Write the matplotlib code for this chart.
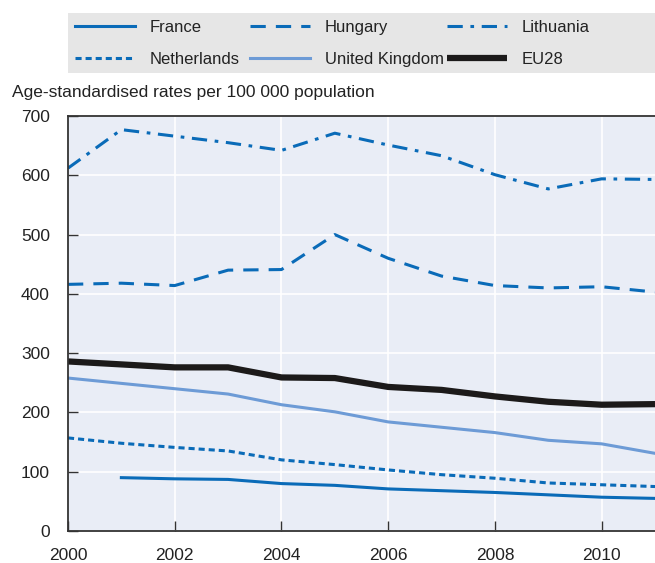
import matplotlib
matplotlib.use('Agg')
import matplotlib.pyplot as plt
from matplotlib.patches import Rectangle

plt.rcParams['font.family'] = ['Liberation Sans', 'DejaVu Sans']

years = list(range(2000, 2012))
france = [None, 90, 88, 87, 80, 77, 71, 68, 65, 61, 57, 55]
netherlands = [157, 148, 141, 135, 120, 112, 103, 95, 89, 81, 78, 75]
hungary = [416, 418, 414, 440, 441, 500, 460, 430, 414, 410, 412, 403]
uk = [258, 249, 240, 231, 213, 201, 184, 175, 166, 153, 147, 131]
lithuania = [612, 677, 666, 655, 642, 671, 651, 633, 601, 577, 594, 593]
eu28 = [286, 281, 276, 276, 259, 258, 243, 238, 227, 218, 213, 214]

xticks = [2000, 2002, 2004, 2006, 2008, 2010]
yticks = [0, 100, 200, 300, 400, 500, 600, 700]

blue = '#0a6bb8'
lightblue = '#6d9bd6'

fig = plt.figure(figsize=(6.55, 5.63), dpi=100)
ax = fig.add_axes([68/655, 1-531/563, 1-68/655, (531-116)/563])
ax.set_facecolor('#e9edf6')

fr_x = [y for y, v in zip(years, france) if v is not None]
fr_y = [v for v in france if v is not None]

l_fr, = ax.plot(fr_x, fr_y, color=blue, lw=2.2, label='France')
l_nl, = ax.plot(years, netherlands, color=blue, lw=2.2, dashes=(2, 1.3), label='Netherlands')
l_hu, = ax.plot(years, hungary, color=blue, lw=2.2, dashes=(5, 3.3), label='Hungary')
l_uk, = ax.plot(years, uk, color=lightblue, lw=2.2, label='United Kingdom')
l_lt, = ax.plot(years, lithuania, color=blue, lw=2.2, dashes=(5, 2.5, 1.2, 2.5), label='Lithuania')
l_eu, = ax.plot(years, eu28, color='#1c1a1a', lw=4.5, solid_capstyle='butt', label='EU28')

ax.set_xlim(2000, 2011)
ax.set_ylim(0, 700)
ax.set_xticks(xticks)
ax.set_yticks(yticks)
ax.grid(True, color='white', lw=1.2)
ax.set_axisbelow(True)
for s in ['left', 'bottom', 'top']:
    ax.spines[s].set_color('#333333')
    ax.spines[s].set_linewidth(1.3)
ax.spines['right'].set_visible(False)
ax.tick_params(direction='in', length=7, width=1, color='#333333', labelsize=12.5, labelcolor='#222222')
ax.tick_params(axis='x', pad=12)
ax.tick_params(axis='y', pad=13)

fig.text(12/655, 1-93/563, 'Age-standardised rates per 100 000 population',
         fontsize=12.5, va='center', ha='left', color='#222222')

# legend box
fig.patches.append(Rectangle((68/655, 1-73/563), 1-68/655, 60/563,
                             transform=fig.transFigure, facecolor='#e6e6e6',
                             edgecolor='none', zorder=0))

# one legend per column so the columns sit where they do in the original
columns = [([l_fr, l_nl], 75), ([l_hu, l_uk], 250), ([l_lt, l_eu], 447)]
for hs, xpx in columns:
    leg = fig.legend(hs, [h.get_label() for h in hs],
                     bbox_to_anchor=(xpx/655, 1-20/563), loc='upper left',
                     fontsize=12, handlelength=3.6, handletextpad=0.9,
                     borderaxespad=0, borderpad=0, frameon=False,
                     labelspacing=1.0)
    for t in leg.get_texts():
        t.set_color('#222222')

fig.savefig('out.png', dpi=100)
